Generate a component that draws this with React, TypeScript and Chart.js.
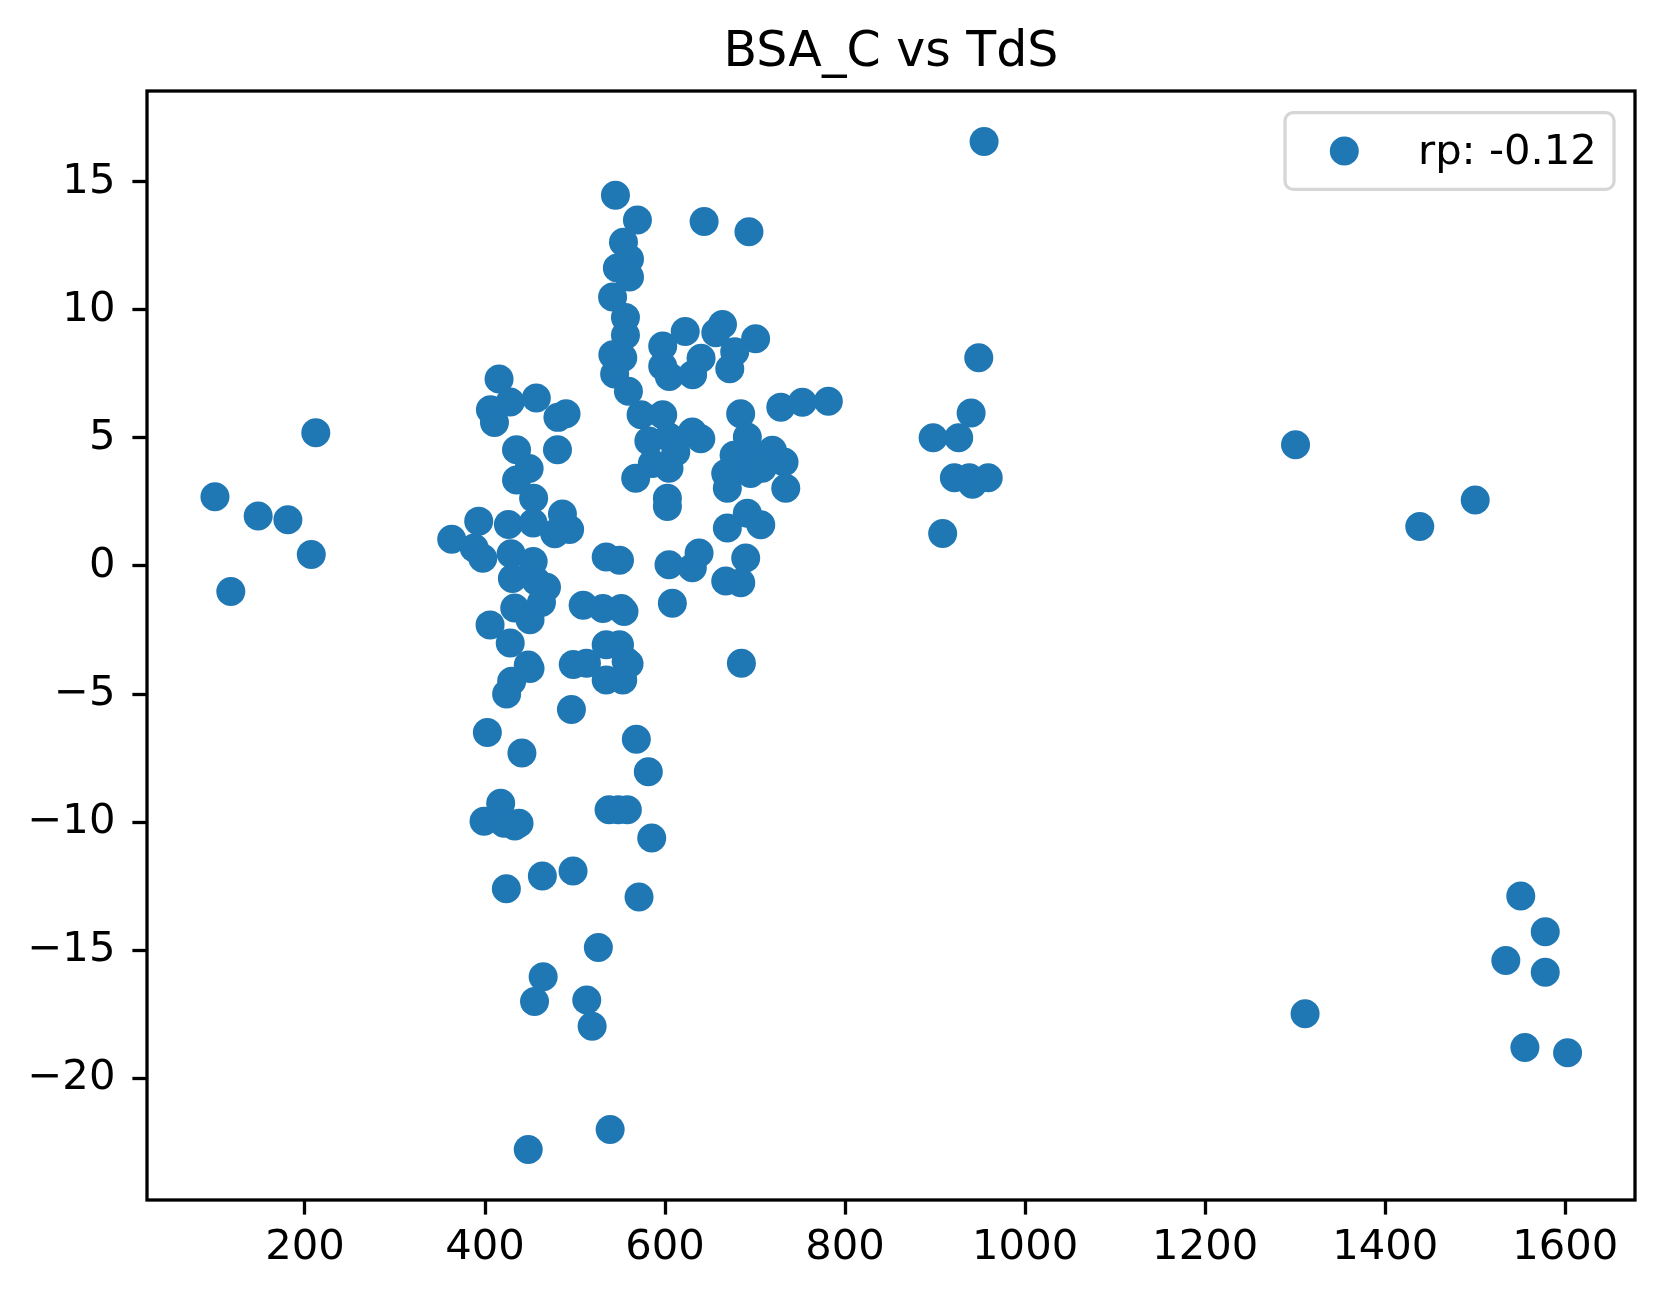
import { useEffect, useRef } from "react"
import { Chart, registerables } from "chart.js"

Chart.register(...registerables)

// valores (TdS no eixo x, BSA_C no eixo y)
const tdsValues = [
  100, 117.6, 148, 181, 207, 212,
  363, 388, 397.5, 393, 415.6, 428, 406, 410.5, 457, 481, 490, 435, 480.5, 449,
  435, 454, 486, 494, 477.5, 426, 453.5, 429, 453.5, 430.4, 457, 468.3, 462.7, 433, 450,
  405.6, 428, 448, 450, 429.6, 424, 402.6, 441, 417.4, 398.9, 421.1, 437.8, 433, 423.7,
  463.7, 497.8, 464.6, 455, 448, 496, 498, 512.7, 509, 531, 551.4, 554.4, 534.6, 549.4,
  534.6, 549.4, 556.8, 534.6, 553, 560, 537.8, 548, 558.1, 525.9, 513, 519, 539, 568.1,
  581.4, 585.2, 571.1,
  544.9, 569.3, 643.4, 693.2, 553.8, 560.5, 547, 560.5, 541.7, 556, 556, 542, 553, 544,
  559.3, 573.4, 597.4, 582, 604.4, 630.3, 639.7, 611.9, 585.9, 604.4, 567.4, 602.6, 602.6,
  597.4, 622.4, 597.4, 604.7, 630.6, 640, 663.8, 656.4, 700.6, 677.4, 671.9, 684, 691.4,
  676.7, 667.4, 697, 695, 719.2, 732.2, 734.1, 669.2, 708, 728.6, 752.6, 781.4, 669.2,
  691.4, 706.3, 689.6, 667.4, 684.1, 604.4, 630.3, 637.8, 608.1, 684.8,
  897.8, 926.2, 921.4, 908.4, 940, 948.5, 954.4, 938, 941.5, 959,
  1300.4, 1311, 1438.4, 1500, 1550.6, 1577.8, 1534, 1577.8, 1555.2, 1602.6,
]

const bsaValues = [
  2.7, -1.0, 1.95, 1.8, 0.45, 5.2,
  1.04, 0.7, 0.3, 1.75, 7.3, 6.4, 6.1, 5.6, 6.56, 5.8, 5.94, 4.54, 4.54, 3.8,
  3.36, 2.64, 2.03, 1.42, 1.26, 1.62, 1.68, 0.48, 0.17, -0.49, -0.6, -0.83, -1.43, -1.64, -2.1,
  -2.3, -3.01, -3.87, -4.0, -4.5, -5.0, -6.5, -7.3, -9.26, -9.97, -10.04, -10.04, -10.15, -12.6,
  -12.1, -11.91, -16.04, -17.0, -22.78, -5.6, -3.85, -3.8, -1.53, -1.66, -1.66, -1.78, 0.35, 0.22,
  -3.08, -3.08, -3.72, -4.45, -4.45, -3.82, -9.52, -9.52, -9.52, -14.89, -16.94, -17.97, -22.0, -6.76,
  -8.03, -10.62, -12.92,
  14.47, 13.5, 13.45, 13.05, 12.64, 11.98, 11.63, 11.28, 10.5, 9.7, 9.01, 8.24, 8.13, 7.49,
  6.82, 5.9, 5.9, 4.88, 5.03, 5.23, 4.97, 4.45, 4.0, 3.81, 3.42, 2.64, 2.32,
  8.59, 9.15, 7.8, 7.4, 7.46, 8.11, 9.43, 9.1, 8.87, 8.36, 7.7, 5.94, 5.03,
  4.32, 3.61, 4.26, 3.61, 4.52, 4.06, 3.03, 3.03, 3.81, 6.2, 6.39, 6.43, 1.48,
  2.06, 1.61, 0.31, -0.59, -0.66, 0.05, -0.07, 0.51, -1.46, -3.8,
  5.0, 5.0, 3.44, 1.27, 5.97, 8.13, 16.57, 3.44, 3.19, 3.44,
  4.73, -17.48, 1.54, 2.57, -12.88, -14.28, -15.4, -15.86, -18.8, -19.0,
]

const xTicks = [200, 400, 600, 800, 1000, 1200, 1400, 1600]
const yTicks = [-20, -15, -10, -5, 0, 5, 10, 15]
const seriesLabel = "rp: -0.12"
const chartTitle = "BSA_C vs TdS"

const FONT = "'DejaVu Sans', sans-serif"
const BLUE = "#1f77b4"

// moldura do eixo + legenda estilo matplotlib
const framePlugin = {
  id: "frame",
  afterDraw(chart: any) {
    const { ctx, chartArea: a } = chart
    ctx.save()
    ctx.strokeStyle = "#000"
    ctx.lineWidth = 3.3
    ctx.strokeRect(a.left, a.top, a.right - a.left, a.bottom - a.top)

    const bw = 329
    const bh = 76.6
    const bx = a.right - 21 - bw
    const by = a.top + 21.7
    ctx.beginPath()
    ctx.roundRect(bx, by, bw, bh, 8)
    ctx.fillStyle = "rgba(255,255,255,0.8)"
    ctx.fill()
    ctx.strokeStyle = "#d6d6d6"
    ctx.lineWidth = 3.3
    ctx.stroke()

    ctx.beginPath()
    ctx.arc(bx + 59.3, by + bh / 2, 14.5, 0, Math.PI * 2)
    ctx.fillStyle = BLUE
    ctx.fill()

    ctx.fillStyle = "#000"
    ctx.font = `41.7px ${FONT}`
    ctx.textBaseline = "alphabetic"
    ctx.textAlign = "left"
    ctx.fillText(chart.data.datasets[0].label, bx + 133, by + 51.3)
    ctx.restore()
  },
}

const fmt = (v: number) => (v < 0 ? "\u2212" + Math.abs(v) : String(v))

export default function App() {
  const chartRef = useRef<HTMLCanvasElement>(null)
  const chartInstance = useRef<Chart | null>(null)

  useEffect(() => {
    if (!chartRef.current) return
    if (chartInstance.current) chartInstance.current.destroy()

    const ctx = chartRef.current.getContext("2d")
    if (!ctx) return

    const points = tdsValues.map((x, i) => ({ x, y: bsaValues[i] }))
    const tickFont = { family: FONT, size: 41.7 }

    chartInstance.current = new Chart(ctx, {
      type: "scatter",
      data: {
        datasets: [
          {
            label: seriesLabel,
            data: points,
            backgroundColor: BLUE,
            borderWidth: 0,
            pointRadius: 14.5,
            pointHoverRadius: 14.5,
          },
        ],
      },
      options: {
        responsive: false,
        devicePixelRatio: 1,
        animation: false,
        layout: { padding: { left: 0, right: 30, top: 0, bottom: 0 } },
        plugins: {
          legend: { display: false },
          tooltip: { enabled: false },
          title: {
            display: true,
            text: chartTitle,
            color: "#000",
            fullSize: false,
            font: { family: FONT, size: 49, weight: "normal" },
            padding: { top: 24.3, bottom: 7.9 },
          },
        },
        scales: {
          x: {
            type: "linear",
            min: 24.5,
            max: 1677.5,
            afterBuildTicks: (s: any) => {
              s.ticks = xTicks.map((value) => ({ value }))
            },
            afterFit: (s: any) => {
              s.height = 102
            },
            grid: {
              drawOnChartArea: false,
              drawTicks: true,
              tickLength: 14.6,
              tickWidth: 3.3,
              tickColor: "#000",
            },
            border: { display: false },
            ticks: {
              color: "#000",
              font: tickFont,
              padding: 9,
              maxRotation: 0,
              autoSkip: false,
              callback: (v: any) => fmt(Number(v)),
            },
          },
          y: {
            type: "linear",
            min: -24.75,
            max: 18.54,
            afterBuildTicks: (s: any) => {
              s.ticks = yTicks.map((value) => ({ value }))
            },
            afterFit: (s: any) => {
              s.width = 147
            },
            grid: {
              drawOnChartArea: false,
              drawTicks: true,
              tickLength: 14.6,
              tickWidth: 3.3,
              tickColor: "#000",
            },
            border: { display: false },
            ticks: {
              color: "#000",
              font: tickFont,
              padding: 17,
              autoSkip: false,
              callback: (v: any) => fmt(Number(v)),
            },
          },
        },
      },
      plugins: [framePlugin],
    })

    return () => {
      if (chartInstance.current) {
        chartInstance.current.destroy()
        chartInstance.current = null
      }
    }
  }, [])

  return (
    <div style={{ position: "absolute", left: 0, top: 0, width: 1665, height: 1302, background: "#fff" }}>
      <canvas ref={chartRef} width={1665} height={1302} style={{ width: 1665, height: 1302 }} />
    </div>
  )
}
